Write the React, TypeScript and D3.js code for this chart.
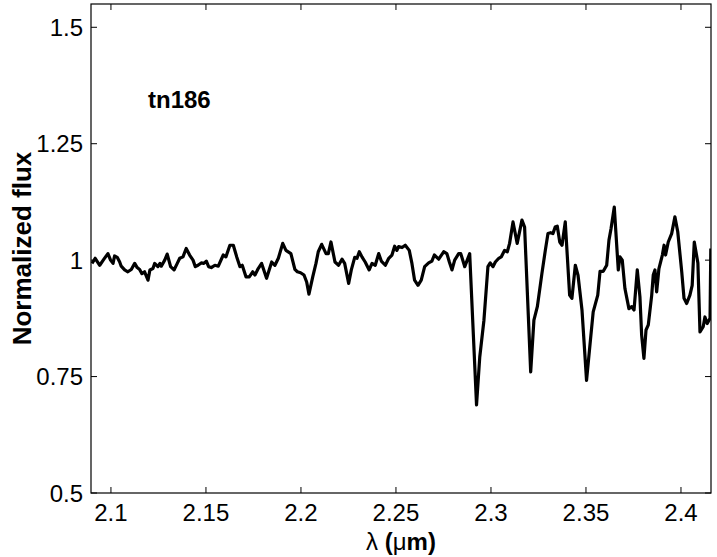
import React from "react";
import * as d3 from "d3";

const wavelength: number[] = [
  2.0900, 2.0917, 2.0941, 2.0963, 2.0984, 2.0998, 2.1011, 2.1019, 2.1033, 2.1046,
  2.1054, 2.1072, 2.1089, 2.1107, 2.1125, 2.1138, 2.1151, 2.1163, 2.1177, 2.1195,
  2.1205, 2.1221, 2.1230, 2.1247, 2.1258, 2.1265, 2.1283, 2.1296, 2.1314, 2.1332,
  2.1349, 2.1362, 2.1379, 2.1396, 2.1414, 2.1432, 2.1444, 2.1458, 2.1475, 2.1489,
  2.1502, 2.1514, 2.1528, 2.1547, 2.1565, 2.1591, 2.1605, 2.1626, 2.1644, 2.1662,
  2.1679, 2.1691, 2.1711, 2.1728, 2.1746, 2.1758, 2.1775, 2.1793, 2.1819, 2.1846,
  2.1863, 2.1881, 2.1904, 2.1921, 2.1947, 2.1968, 2.1981, 2.1998, 2.2016, 2.2030,
  2.2042, 2.2062, 2.2079, 2.2091, 2.2109, 2.2132, 2.2144, 2.2158, 2.2179, 2.2198,
  2.2216, 2.2230, 2.2251, 2.2265, 2.2283, 2.2295, 2.2307, 2.2321, 2.2338, 2.2359,
  2.2374, 2.2391, 2.2409, 2.2423, 2.2444, 2.2462, 2.2479, 2.2493, 2.2505, 2.2514,
  2.2532, 2.2549, 2.2570, 2.2584, 2.2598, 2.2616, 2.2633, 2.2651, 2.2672, 2.2689,
  2.2702, 2.2725, 2.2751, 2.2768, 2.2781, 2.2795, 2.2809, 2.2830, 2.2841, 2.2862,
  2.2888, 2.2924, 2.2941, 2.2963, 2.2984, 2.2996, 2.3011, 2.3023, 2.3041, 2.3054,
  2.3072, 2.3086, 2.3098, 2.3116, 2.3138, 2.3163, 2.3177, 2.3209, 2.3226, 2.3244,
  2.3268, 2.3286, 2.3300, 2.3314, 2.3326, 2.3338, 2.3349, 2.3362, 2.3374, 2.3391,
  2.3414, 2.3426, 2.3444, 2.3458, 2.3479, 2.3503, 2.3526, 2.3538, 2.3562, 2.3574,
  2.3591, 2.3609, 2.3621, 2.3632, 2.3649, 2.3670, 2.3679, 2.3691, 2.3705, 2.3726,
  2.3741, 2.3753, 2.3770, 2.3784, 2.3793, 2.3805, 2.3816, 2.3828, 2.3846, 2.3854,
  2.3863, 2.3872, 2.3884, 2.3902, 2.3911, 2.3919, 2.3933, 2.3951, 2.3968, 2.3983,
  2.4004, 2.4016, 2.4030, 2.4047, 2.4059, 2.4070, 2.4089, 2.4100, 2.4117, 2.4126,
  2.4138, 2.4153, 2.4157,
];

const flux: number[] = [
  0.993, 1.004, 0.989, 1.002, 1.014, 1.000, 0.993, 1.009, 1.006, 0.996,
  0.987, 0.979, 0.975, 0.980, 0.993, 0.984, 0.980, 0.971, 0.975, 0.957,
  0.979, 0.982, 0.993, 0.986, 0.993, 0.987, 1.000, 1.013, 0.986, 0.979,
  0.993, 1.004, 1.007, 1.025, 1.011, 1.000, 0.986, 0.989, 0.994, 0.993,
  0.998, 0.986, 0.984, 0.989, 0.987, 1.011, 1.007, 1.032, 1.032, 1.007,
  0.986, 0.989, 0.964, 0.964, 0.975, 0.968, 0.982, 0.993, 0.961, 0.996,
  0.989, 1.004, 1.036, 1.021, 1.014, 0.980, 0.975, 0.973, 0.968, 0.953,
  0.927, 0.964, 0.993, 1.018, 1.034, 1.014, 1.014, 1.039, 0.996, 0.989,
  1.002, 0.993, 0.950, 0.979, 1.006, 1.004, 1.018, 1.007, 0.996, 0.979,
  0.993, 0.989, 1.014, 0.998, 0.989, 1.004, 1.011, 1.030, 1.021, 1.029,
  1.027, 1.032, 1.021, 0.993, 0.957, 0.946, 0.957, 0.986, 0.994, 0.998,
  1.011, 1.002, 1.018, 1.014, 0.996, 0.979, 1.000, 1.014, 1.014, 0.986,
  1.014, 0.689, 0.792, 0.871, 0.986, 0.994, 0.986, 0.996, 1.004, 1.007,
  1.021, 1.018, 1.036, 1.082, 1.036, 1.086, 1.071, 0.760, 0.871, 0.900,
  0.971, 1.021, 1.057, 1.059, 1.057, 1.071, 1.073, 1.039, 1.032, 1.082,
  0.925, 0.918, 0.989, 0.968, 0.893, 0.742, 0.839, 0.889, 0.925, 0.976,
  0.976, 0.989, 1.043, 1.068, 1.114, 0.979, 1.007, 1.000, 0.939, 0.896,
  0.900, 0.893, 0.979, 0.921, 0.839, 0.789, 0.850, 0.861, 0.925, 0.968,
  0.979, 0.932, 0.982, 1.011, 1.032, 1.011, 1.039, 1.057, 1.093, 1.061,
  0.975, 0.918, 0.907, 0.925, 0.946, 1.039, 0.994, 0.846, 0.857, 0.878,
  0.864, 0.875, 1.025,
];

const xTicks: number[] = [2.1, 2.15, 2.2, 2.25, 2.3, 2.35, 2.4];
const yTicks: number[] = [0.5, 0.75, 1, 1.25, 1.5];
const xDomain: number[] = [2.0895, 2.4158];
const yDomain: number[] = [0.5, 1.55];
const label = "tn186";

const W = 717;
const H = 557;
const L = 91;
const R = 711;
const T = 4;
const B = 493;
const FONT = "'Liberation Sans', Arial, Helvetica, sans-serif";

export default function App() {
  const x = d3.scaleLinear().domain(xDomain).range([L, R]);
  const y = d3.scaleLinear().domain(yDomain).range([B, T]);
  const pts = wavelength.map((w, i) => [w, flux[i]] as [number, number]);
  const line = d3
    .line<[number, number]>()
    .x((d) => x(d[0]))
    .y((d) => y(d[1]));
  const tl = 6;
  return (
    <svg
      width={W}
      height={H}
      style={{ position: "absolute", left: 0, top: 0, background: "#fff" }}
      fontFamily={FONT}
    >
      <rect x={0} y={0} width={W} height={H} fill="#fff" />
      <defs>
        <clipPath id="pc">
          <rect x={L} y={T} width={R - L} height={B - T} />
        </clipPath>
      </defs>
      <path
        d={line(pts) || ""}
        fill="none"
        stroke="#000"
        strokeWidth={3.2}
        strokeLinejoin="round"
        clipPath="url(#pc)"
      />
      <rect x={L} y={T} width={R - L} height={B - T} fill="none" stroke="#000" strokeWidth={1.2} />
      {xTicks.map((t) => (
        <g key={"x" + t}>
          <line x1={x(t)} x2={x(t)} y1={B} y2={B - tl} stroke="#000" />
          <line x1={x(t)} x2={x(t)} y1={T} y2={T + tl} stroke="#000" />
          <text x={x(t)} y={B + 28} textAnchor="middle" fontSize={24}>
            {String(t)}
          </text>
        </g>
      ))}
      {yTicks.map((t) => (
        <g key={"y" + t}>
          <line x1={L} x2={L + tl} y1={y(t)} y2={y(t)} stroke="#000" />
          <line x1={R} x2={R - tl} y1={y(t)} y2={y(t)} stroke="#000" />
          <text x={L - 8} y={y(t) + 8.5} textAnchor="end" fontSize={24}>
            {String(t)}
          </text>
        </g>
      ))}
      <text x={148} y={108} fontSize={24} fontWeight="bold">
        {label}
      </text>
      <text
        transform={`translate(31, ${(T + B) / 2}) rotate(-90)`}
        textAnchor="middle"
        fontSize={26}
        fontWeight="bold"
      >
        Normalized flux
      </text>
      <text x={(L + R) / 2} y={550} textAnchor="middle" fontSize={24}>
        <tspan>λ </tspan>
        <tspan fontWeight="bold">(</tspan>
        <tspan>μ</tspan>
        <tspan fontWeight="bold">m)</tspan>
      </text>
    </svg>
  );
}
